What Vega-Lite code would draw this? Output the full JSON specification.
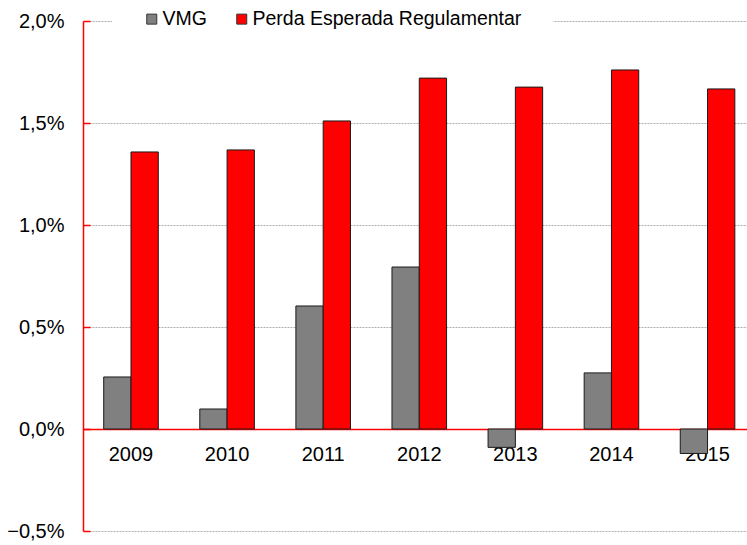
{
  "$schema": "https://vega.github.io/schema/vega-lite/v6.json",
  "autosize": {"type": "none"},
  "padding": {"left": 83, "top": 21, "right": 0, "bottom": 14},
  "width": 664,
  "height": 510,
  "background": "white",
  "config": {
    "view": {"stroke": null},
    "font": "Liberation Sans",
    "axis": {"labelFont": "Liberation Sans", "labelColor": "#000", "labelFontSize": 20, "title": null}
  },
  "data": {
    "values": [
      {"year": "2009", "series": "VMG", "value": 0.00255},
      {"year": "2009", "series": "Perda Esperada Regulamentar", "value": 0.01358},
      {"year": "2010", "series": "VMG", "value": 0.00098},
      {"year": "2010", "series": "Perda Esperada Regulamentar", "value": 0.01368},
      {"year": "2011", "series": "VMG", "value": 0.00603},
      {"year": "2011", "series": "Perda Esperada Regulamentar", "value": 0.0151},
      {"year": "2012", "series": "VMG", "value": 0.00794},
      {"year": "2012", "series": "Perda Esperada Regulamentar", "value": 0.0172},
      {"year": "2013", "series": "VMG", "value": -0.0009},
      {"year": "2013", "series": "Perda Esperada Regulamentar", "value": 0.01676},
      {"year": "2014", "series": "VMG", "value": 0.00275},
      {"year": "2014", "series": "Perda Esperada Regulamentar", "value": 0.0176},
      {"year": "2015", "series": "VMG", "value": -0.0012},
      {"year": "2015", "series": "Perda Esperada Regulamentar", "value": 0.01667}
    ]
  },
  "mark": {"type": "bar", "stroke": "#1a1a1a", "strokeWidth": 1},
  "encoding": {
    "x": {
      "field": "year",
      "type": "ordinal",
      "scale": {"paddingInner": 0.432, "paddingOuter": 0.171, "align": 0.63},
      "axis": {
        "orient": "bottom",
        "offset": -102,
        "labelAngle": 0,
        "ticks": false,
        "labelPadding": 15,
        "domainColor": "#ff0000",
        "domainWidth": 1.5,
        "grid": false
      }
    },
    "xOffset": {
      "field": "series",
      "type": "nominal",
      "sort": ["VMG", "Perda Esperada Regulamentar"]
    },
    "y": {
      "field": "value",
      "type": "quantitative",
      "scale": {"domain": [-0.005, 0.02], "nice": false, "zero": false},
      "axis": {
        "values": [-0.005, 0, 0.005, 0.01, 0.015, 0.02],
        "labelExpr": "replace(format(datum.value, '.1%'), '.', ',')",
        "domainColor": "#ff0000",
        "domainWidth": 1.5,
        "tickColor": "#ff0000",
        "tickWidth": 1.5,
        "tickSize": -7,
        "labelPadding": 26,
        "grid": true,
        "gridColor": "#999999",
        "gridDash": [2, 1],
        "gridWidth": 0.8
      }
    },
    "color": {
      "field": "series",
      "type": "nominal",
      "sort": ["VMG", "Perda Esperada Regulamentar"],
      "scale": {"domain": ["VMG", "Perda Esperada Regulamentar"], "range": ["#808080", "#ff0000"]},
      "legend": {
        "title": null,
        "orient": "none",
        "direction": "horizontal",
        "legendX": 29,
        "legendY": -42,
        "padding": 30,
        "fillColor": "white",
        "strokeColor": "white",
        "symbolType": "square",
        "symbolSize": 100,
        "symbolStrokeColor": "#333333",
        "symbolStrokeWidth": 1,
        "symbolOpacity": 1,
        "labelFont": "Liberation Sans",
        "labelFontSize": 19.5,
        "labelColor": "#000",
        "labelOffset": 1,
        "columnPadding": 25,
        "labelLimit": 400
      }
    }
  }
}
